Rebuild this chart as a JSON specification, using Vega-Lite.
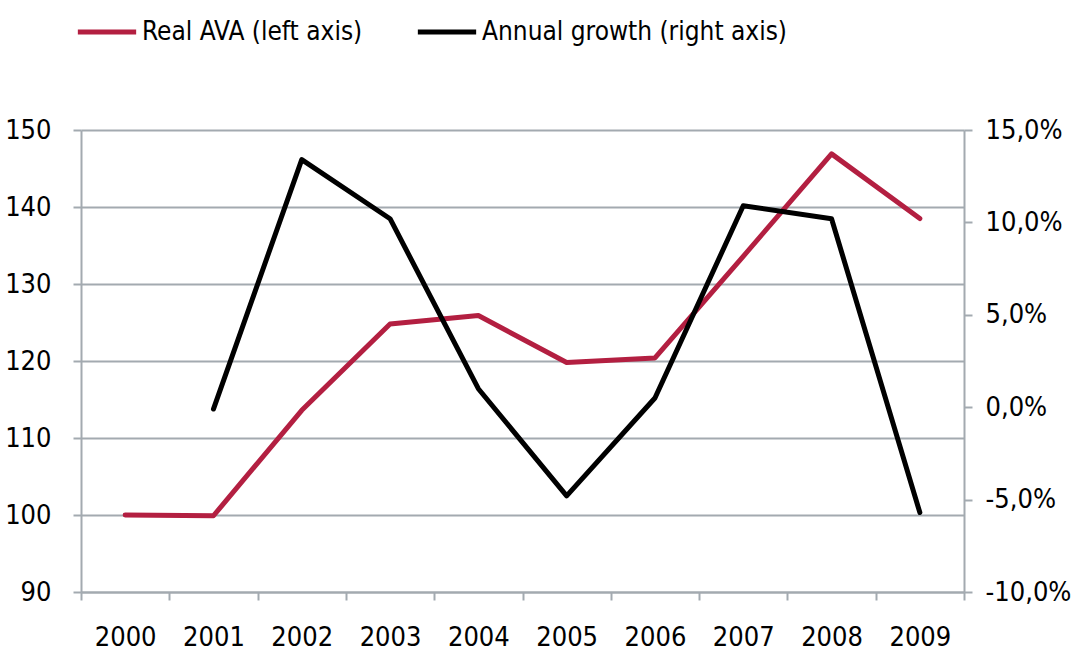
{
  "$schema": "https://vega.github.io/schema/vega-lite/v6.json",
  "autosize": {"type": "none"},
  "width": 883,
  "height": 462,
  "padding": {"left": 81, "top": 130, "right": 111, "bottom": 58},
  "background": "white",
  "config": {
    "font": "DejaVu Sans Condensed, sans-serif",
    "view": {"stroke": null},
    "axis": {
      "labelFont": "DejaVu Sans Condensed, sans-serif",
      "labelFontSize": 27,
      "labelColor": "#000000",
      "domainColor": "#a3aab0",
      "domainWidth": 2,
      "tickColor": "#a3aab0",
      "tickWidth": 2,
      "tickSize": 8,
      "gridColor": "#a3aab0",
      "gridWidth": 2,
      "gridOpacity": 1,
      "title": null
    }
  },
  "data": {
    "values": [
      {"year": "2000", "series": "Real AVA (left axis)", "value": 100.0},
      {"year": "2001", "series": "Real AVA (left axis)", "value": 99.9},
      {"year": "2002", "series": "Real AVA (left axis)", "value": 113.6},
      {"year": "2003", "series": "Real AVA (left axis)", "value": 124.8},
      {"year": "2004", "series": "Real AVA (left axis)", "value": 125.9},
      {"year": "2005", "series": "Real AVA (left axis)", "value": 119.8},
      {"year": "2006", "series": "Real AVA (left axis)", "value": 120.4},
      {"year": "2007", "series": "Real AVA (left axis)", "value": 133.6},
      {"year": "2008", "series": "Real AVA (left axis)", "value": 146.9},
      {"year": "2009", "series": "Real AVA (left axis)", "value": 138.5},
      {"year": "2001", "series": "Annual growth (right axis)", "value": -0.001},
      {"year": "2002", "series": "Annual growth (right axis)", "value": 0.134},
      {"year": "2003", "series": "Annual growth (right axis)", "value": 0.102},
      {"year": "2004", "series": "Annual growth (right axis)", "value": 0.010},
      {"year": "2005", "series": "Annual growth (right axis)", "value": -0.048},
      {"year": "2006", "series": "Annual growth (right axis)", "value": 0.005},
      {"year": "2007", "series": "Annual growth (right axis)", "value": 0.109},
      {"year": "2008", "series": "Annual growth (right axis)", "value": 0.102},
      {"year": "2009", "series": "Annual growth (right axis)", "value": -0.057}
    ]
  },
  "encoding": {
    "x": {
      "field": "year",
      "type": "ordinal",
      "scale": {"paddingInner": 0, "paddingOuter": 0},
      "axis": {
        "labelAngle": 0,
        "tickBand": "extent",
        "labelPadding": 24,
        "tickSize": 8,
        "grid": false
      }
    },
    "color": {
      "field": "series",
      "type": "nominal",
      "scale": {
        "domain": ["Real AVA (left axis)", "Annual growth (right axis)"],
        "range": ["#b31f41", "#000000"]
      },
      "legend": {
        "title": null,
        "orient": "none",
        "direction": "horizontal",
        "legendX": -6,
        "legendY": -130,
        "symbolType": "stroke",
        "symbolSize": 3400,
        "symbolStrokeWidth": 5,
        "labelFontSize": 26,
        "labelLimit": 0,
        "labelColor": "#000000",
        "labelFont": "DejaVu Sans Condensed, sans-serif",
        "labelOffset": 3,
        "columnPadding": 44,
        "padding": 0
      }
    }
  },
  "layer": [
    {
      "transform": [{"filter": "datum.series === 'Real AVA (left axis)'"}],
      "mark": {"type": "line", "strokeWidth": 5, "strokeCap": "round", "strokeJoin": "round"},
      "encoding": {
        "y": {
          "field": "value",
          "type": "quantitative",
          "scale": {"domain": [90, 150], "nice": false, "zero": false},
          "axis": {
            "orient": "left",
            "values": [90, 100, 110, 120, 130, 140, 150],
            "grid": true,
            "labelPadding": 22
          }
        }
      }
    },
    {
      "transform": [{"filter": "datum.series === 'Annual growth (right axis)'"}],
      "mark": {"type": "line", "strokeWidth": 5, "strokeCap": "round", "strokeJoin": "round"},
      "encoding": {
        "y": {
          "field": "value",
          "type": "quantitative",
          "scale": {"domain": [-0.1, 0.15], "nice": false, "zero": false},
          "axis": {
            "orient": "right",
            "values": [-0.1, -0.05, 0, 0.05, 0.1, 0.15],
            "grid": false,
            "labelPadding": 13,
            "labelExpr": "replace(replace(format(datum.value, '.1%'), '.', ','), '\u2212', '-')"
          }
        }
      }
    }
  ],
  "resolve": {"scale": {"y": "independent"}}
}
